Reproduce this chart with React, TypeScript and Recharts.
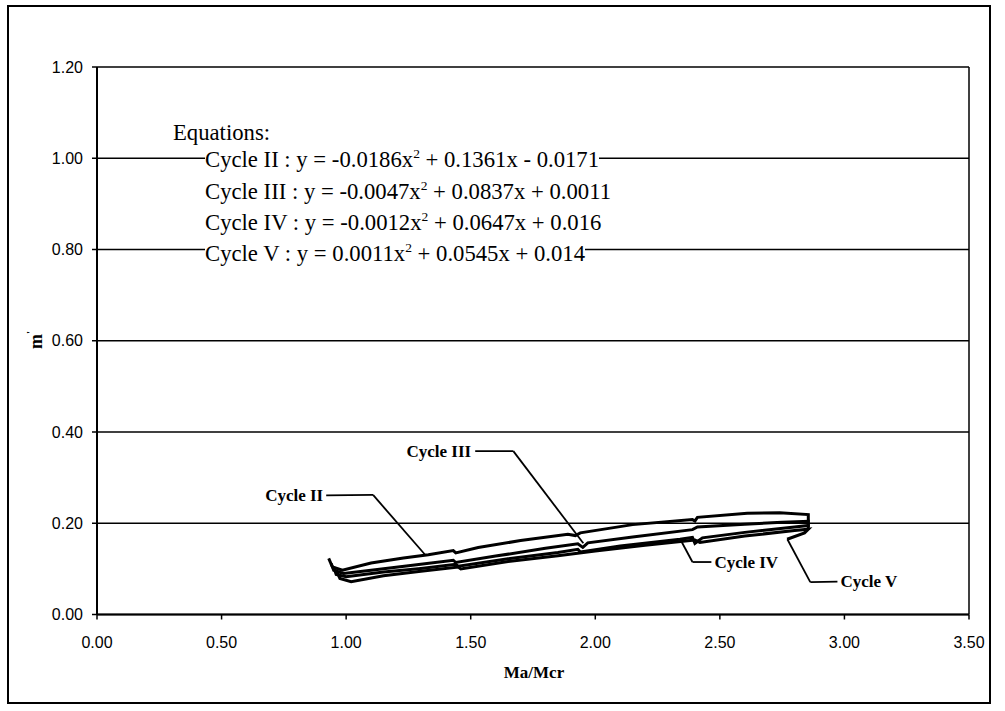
import React from 'react';
import {
  LineChart,
  Line,
  XAxis,
  YAxis,
  CartesianGrid,
  ReferenceLine,
  ReferenceDot,
} from 'recharts';

// ---------- data ----------
const xTicks = [0, 0.5, 1, 1.5, 2, 2.5, 3, 3.5];
const yTicks = [0, 0.2, 0.4, 0.6, 0.8, 1.0, 1.2];

const seriesNames = ['Cycle II', 'Cycle III', 'Cycle IV', 'Cycle V'];

const cycleII = [
  { x: 0.93, y: 0.123 }, { x: 0.945, y: 0.104 }, { x: 0.985, y: 0.097 },
  { x: 1.1, y: 0.113 }, { x: 1.23, y: 0.124 }, { x: 1.33, y: 0.131 },
  { x: 1.43, y: 0.14 }, { x: 1.44, y: 0.135 }, { x: 1.53, y: 0.147 },
  { x: 1.7, y: 0.162 }, { x: 1.89, y: 0.176 }, { x: 1.92, y: 0.173 },
  { x: 1.94, y: 0.179 }, { x: 2.15, y: 0.197 }, { x: 2.39, y: 0.208 },
  { x: 2.4, y: 0.205 }, { x: 2.41, y: 0.213 }, { x: 2.61, y: 0.222 },
  { x: 2.74, y: 0.223 }, { x: 2.855, y: 0.219 }, { x: 2.855, y: 0.199 },
];

const cycleIII = [
  { x: 0.94, y: 0.112 }, { x: 0.95, y: 0.097 }, { x: 0.99, y: 0.09 },
  { x: 1.1, y: 0.097 }, { x: 1.25, y: 0.107 }, { x: 1.43, y: 0.119 },
  { x: 1.44, y: 0.114 }, { x: 1.6, y: 0.128 }, { x: 1.8, y: 0.145 },
  { x: 1.93, y: 0.155 }, { x: 1.95, y: 0.147 }, { x: 1.97, y: 0.157 },
  { x: 2.15, y: 0.17 }, { x: 2.39, y: 0.186 }, { x: 2.41, y: 0.192 },
  { x: 2.6, y: 0.198 }, { x: 2.75, y: 0.202 }, { x: 2.855, y: 0.204 },
  { x: 2.855, y: 0.192 },
];

const cycleIV = [
  { x: 0.95, y: 0.104 }, { x: 0.96, y: 0.088 }, { x: 1.0, y: 0.083 },
  { x: 1.15, y: 0.093 }, { x: 1.3, y: 0.101 }, { x: 1.44, y: 0.11 },
  { x: 1.45, y: 0.106 }, { x: 1.65, y: 0.122 }, { x: 1.85, y: 0.136 },
  { x: 1.93, y: 0.143 }, { x: 1.94, y: 0.137 }, { x: 2.1, y: 0.15 },
  { x: 2.34, y: 0.165 }, { x: 2.39, y: 0.169 }, { x: 2.4, y: 0.156 },
  { x: 2.43, y: 0.168 }, { x: 2.6, y: 0.18 }, { x: 2.8, y: 0.192 },
  { x: 2.855, y: 0.195 }, { x: 2.855, y: 0.185 },
];

const cycleV = [
  { x: 0.96, y: 0.097 }, { x: 0.975, y: 0.079 }, { x: 1.02, y: 0.072 },
  { x: 1.15, y: 0.085 }, { x: 1.3, y: 0.095 }, { x: 1.45, y: 0.104 },
  { x: 1.46, y: 0.1 }, { x: 1.65, y: 0.116 }, { x: 1.85, y: 0.129 },
  { x: 2.0, y: 0.139 }, { x: 2.2, y: 0.152 }, { x: 2.4, y: 0.163 },
  { x: 2.42, y: 0.158 }, { x: 2.6, y: 0.172 }, { x: 2.8, y: 0.184 },
  { x: 2.855, y: 0.187 }, { x: 2.84, y: 0.179 }, { x: 2.77, y: 0.165 },
];

const seriesData = [cycleII, cycleIII, cycleIV, cycleV];

// leader lines for the series labels (data coordinates)
const leaderII = [{ x: 0.92, y: 0.261 }, { x: 1.108, y: 0.262 }, { x: 1.317, y: 0.131 }];
const leaderIII = [{ x: 1.518, y: 0.358 }, { x: 1.671, y: 0.358 }, { x: 1.952, y: 0.156 }];
const leaderIV = [{ x: 2.341, y: 0.165 }, { x: 2.39, y: 0.115 }, { x: 2.466, y: 0.115 }];
const leaderV = [{ x: 2.771, y: 0.165 }, { x: 2.863, y: 0.071 }, { x: 2.972, y: 0.072 }];
const leaders = [leaderII, leaderIII, leaderIV, leaderV];

// label anchor points (data coordinates) and side
const labelX = [0.908, 1.502, 2.478, 2.984];
const labelY = [0.261, 0.357, 0.115, 0.072];
const labelAnchor = ['end', 'end', 'start', 'start'];

// trendline equations shown in the text box
const eqHeading = 'Equations:';
const eqBefore = [
  'Cycle II : y = -0.0186x',
  'Cycle III : y = -0.0047x',
  'Cycle IV : y = -0.0012x',
  'Cycle V : y = 0.0011x',
];
const eqAfter = [
  ' + 0.1361x - 0.0171',
  ' + 0.0837x + 0.0011',
  ' + 0.0647x + 0.016',
  ' + 0.0545x + 0.014',
];

const xTitle = 'Ma/Mcr';
const yTitle = 'm';

// ---------- component ----------
const W = 1005;
const H = 711;
const SERIF = '"Liberation Serif", "Times New Roman", serif';
const SANS = '"Liberation Sans", Arial, sans-serif';

const eqTops = [148, 180, 211, 242];

export default function App() {
  const segs: any[] = [];
  leaders.forEach((pts, i) => {
    for (let j = 1; j < pts.length; j++) {
      segs.push(
        <ReferenceLine
          key={`seg-${i}-${j}`}
          segment={[pts[j - 1], pts[j]]}
          stroke="#000"
          strokeWidth={1.8}
          ifOverflow="visible"
        />
      );
    }
  });

  const dots = seriesNames.map((name, i) => (
    <ReferenceDot
      key={`lab-${i}`}
      x={labelX[i]}
      y={labelY[i]}
      r={0}
      ifOverflow="visible"
      shape={(p: any) => (
        <text
          x={p.cx}
          y={p.cy}
          textAnchor={labelAnchor[i] as any}
          dominantBaseline="central"
          fontFamily={SERIF}
          fontWeight={700}
          fontSize={17}
          fill="#000"
        >
          {name}
        </text>
      )}
    />
  ));

  return (
    <div style={{ position: 'absolute', left: 0, top: 0, width: W, height: H, background: '#fff' }}>
      <div
        style={{
          position: 'absolute',
          left: 7,
          top: 5,
          width: 984,
          height: 699,
          border: '2px solid #000',
          boxSizing: 'border-box',
        }}
      />
      <div style={{ position: 'absolute', left: 0, top: 0 }}>
        <LineChart width={W} height={H} margin={{ top: 67, right: 36, left: 0, bottom: 36.5 }}>
          <CartesianGrid horizontal vertical={false} stroke="#000" strokeWidth={1.5} />
          <XAxis
            type="number"
            dataKey="x"
            domain={[0, 3.5]}
            ticks={xTicks}
            interval={0}
            height={60}
            tickFormatter={(v: number) => v.toFixed(2)}
            tick={{ fill: '#000', fontSize: 16, fontFamily: SANS }}
            tickSize={5}
            tickMargin={17}
            axisLine={{ stroke: '#000', strokeWidth: 2 }}
            tickLine={{ stroke: '#000', strokeWidth: 1.5 }}
            allowDataOverflow
          />
          <YAxis
            type="number"
            domain={[0, 1.2]}
            ticks={yTicks}
            interval={0}
            width={97}
            tickFormatter={(v: number) => v.toFixed(2)}
            tick={{ fill: '#000', fontSize: 16, fontFamily: SANS }}
            tickSize={5}
            tickMargin={9}
            axisLine={{ stroke: '#000', strokeWidth: 2 }}
            tickLine={{ stroke: '#000', strokeWidth: 1.5 }}
            allowDataOverflow
          />
          <ReferenceLine x={3.5} stroke="#000" strokeWidth={1.5} ifOverflow="visible" />
          {seriesData.map((d, i) => (
            <Line
              key={seriesNames[i]}
              name={seriesNames[i]}
              data={d}
              dataKey="y"
              type="linear"
              stroke="#000"
              strokeWidth={3}
              dot={false}
              activeDot={false}
              isAnimationActive={false}
            />
          ))}
          {segs}
          {dots}
        </LineChart>
      </div>

      {/* equations text box */}
      <div
        style={{
          position: 'absolute',
          left: 173,
          top: 121,
          fontFamily: SERIF,
          fontSize: 22.7,
          lineHeight: '23px',
          color: '#000',
          whiteSpace: 'nowrap',
        }}
      >
        {eqHeading}
      </div>
      {eqBefore.map((t, i) => (
        <div
          key={`eq-${i}`}
          style={{
            position: 'absolute',
            left: 205,
            top: eqTops[i],
            fontFamily: SERIF,
            fontSize: 22.7,
            lineHeight: '23px',
            color: '#000',
            whiteSpace: 'nowrap',
          }}
        >
          <span style={{ background: '#fff' }}>
            {t}
            <span style={{ fontSize: 13.5, verticalAlign: 9, lineHeight: 0 }}>2</span>
            {eqAfter[i]}
          </span>
        </div>
      ))}

      {/* axis titles */}
      <div
        style={{
          position: 'absolute',
          left: 437,
          width: 194,
          top: 663,
          textAlign: 'center',
          fontFamily: SERIF,
          fontWeight: 700,
          fontSize: 17,
          lineHeight: '20px',
          color: '#000',
        }}
      >
        {xTitle}
      </div>
      <div
        style={{
          position: 'absolute',
          left: 14,
          top: 328,
          width: 44,
          height: 24,
          textAlign: 'center',
          transform: 'rotate(-90deg)',
          fontFamily: SERIF,
          fontWeight: 700,
          fontSize: 18,
          lineHeight: '24px',
          color: '#000',
        }}
      >
        {yTitle}
        <span style={{ fontSize: 11, verticalAlign: 8, lineHeight: 0 }}>'</span>
      </div>
    </div>
  );
}
